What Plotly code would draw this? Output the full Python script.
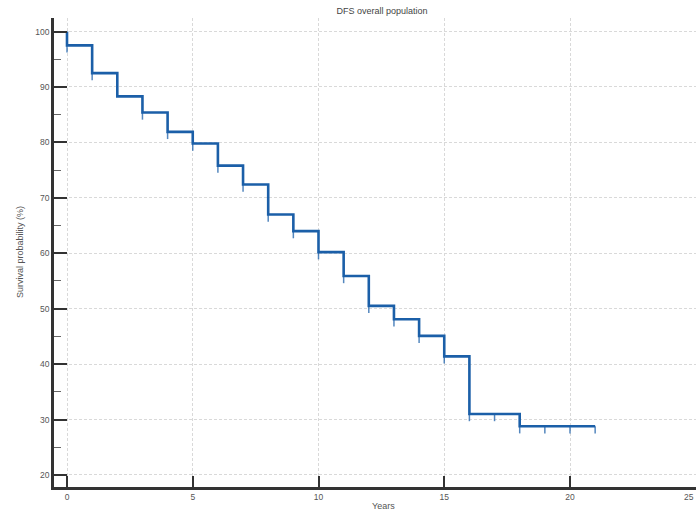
import plotly.graph_objects as go

# Kaplan-Meier estimate of disease-free survival, overall population
event_years = [0, 1, 2, 3, 4, 5, 6, 7, 8, 9, 10, 11, 12, 13, 14, 15, 16, 18]
survival_pct = [97.5, 92.5, 88.3, 85.4, 81.9, 79.8, 75.8, 72.4, 67.0, 64.0,
                60.2, 55.9, 50.5, 48.1, 45.1, 41.4, 31.0, 28.8]
follow_up_end = 21
start_pct = 100.0

# censored observations (years)
censor_years = [0, 1, 3, 4, 5, 6, 7, 8, 9, 10, 11, 12, 13, 14, 15, 16,
                17, 18, 19, 20, 21]

x_ticks = [0, 5, 10, 15, 20, 25]
y_ticks = [20, 30, 40, 50, 60, 70, 80, 90, 100]

LINE = "#1b5fa8"
AXIS = "#333333"
TEXT = "#555555"
FONT = "Liberation Sans, Arial, sans-serif"

# step curve: starts at 100% and drops at each event time
step_x = [0] + event_years + [follow_up_end]
step_y = [start_pct] + survival_pct + [survival_pct[-1]]


def surv_at(t):
    s = start_pct
    for ey, sv in zip(event_years, survival_pct):
        if ey <= t:
            s = sv
    return s


# censor marks hang just below the curve
tick_depth = 1.3
cx, cy = [], []
for t in censor_years:
    s = surv_at(t)
    cx += [t, t, None]
    cy += [s, s - tick_depth, None]

fig = go.Figure()
fig.add_trace(go.Scatter(
    x=cx, y=cy, mode="lines",
    line=dict(color="rgba(27,95,168,0.75)", width=1.5),
    hoverinfo="skip", showlegend=False,
))
fig.add_trace(go.Scatter(
    x=step_x, y=step_y, mode="lines", line_shape="hv",
    line=dict(color=LINE, width=2.6),
    showlegend=False,
))

grid = dict(showgrid=True, gridcolor="#d9d9d9", gridwidth=1, griddash="3px,2px")

fig.update_xaxes(
    range=[-0.517, 25.01], tickvals=x_ticks[:-1], ticktext=[str(v) for v in x_ticks[:-1]],
    showline=True, linecolor=AXIS, linewidth=2.5, mirror=False,
    ticks="inside", ticklen=11, tickwidth=2, tickcolor=AXIS,
    tickfont=dict(family=FONT, size=8.5, color=TEXT),
    zeroline=False, **grid,
)
fig.update_yaxes(
    range=[17.83, 102.44], tickvals=y_ticks, ticktext=[str(v) for v in y_ticks],
    showline=True, linecolor=AXIS, linewidth=2.5, mirror=False,
    ticks="inside", ticklen=13, tickwidth=2, tickcolor=AXIS,
    minor=dict(ticks="inside", ticklen=7, tickwidth=1, tickcolor="#666666",
               dtick=5, tick0=0, showgrid=False),
    tickfont=dict(family=FONT, size=8.5, color=TEXT),
    zeroline=False, **grid,
)

fig.update_layout(
    width=696, height=511,
    margin=dict(l=54, r=0, t=18, b=24),
    paper_bgcolor="white", plot_bgcolor="white",
    title=dict(text="DFS overall population", x=382 / 696, xref="container",
               xanchor="center", y=1 - 11 / 511, yref="container", yanchor="middle",
               font=dict(family=FONT, size=9, color="#444444")),
    annotations=[
        # last x tick label sits against the right edge of the page
        dict(text=str(x_ticks[-1]), xref="x", yref="paper",
             x=x_ticks[-1], y=-(497 - 487) / 469, xanchor="right", yanchor="middle",
             showarrow=False, font=dict(family=FONT, size=8.5, color=TEXT)),
        dict(text="Years", xref="paper", yref="paper",
             x=(383 - 54) / 642, y=-(506 - 487) / 469, xanchor="center", yanchor="middle",
             showarrow=False, font=dict(family=FONT, size=9, color=TEXT)),
        dict(text="Survival probability (%)", xref="paper", yref="paper",
             x=-(54 - 20) / 642, y=(487 - 252) / 469, xanchor="center", yanchor="middle",
             textangle=-90, showarrow=False,
             font=dict(family=FONT, size=9, color=TEXT)),
    ],
)

fig.write_html("out.html")
